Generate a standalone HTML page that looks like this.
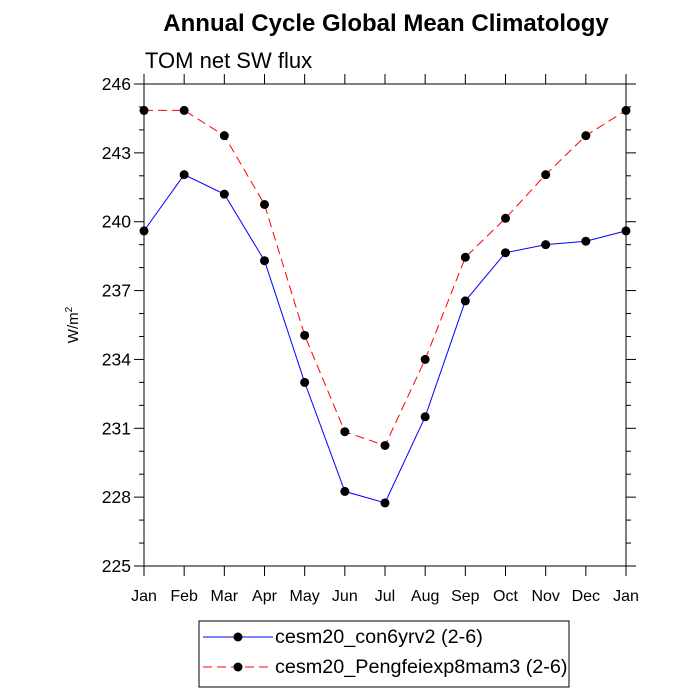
<!DOCTYPE html>
<html><head><meta charset="utf-8"><style>body{margin:0;background:#fff}svg{display:block;font-family:"Liberation Sans",sans-serif}</style></head>
<body>
<svg id="c" width="700" height="700">
<text x="386" y="31" text-anchor="middle" font-size="24" font-weight="bold">Annual Cycle Global Mean Climatology</text>
<text x="145" y="68" font-size="22">TOM net SW flux</text>
<text transform="translate(78,325) rotate(-90)" text-anchor="middle" font-size="15">W/m<tspan font-size="10" dy="-6">2</tspan></text>
<g id="g"></g>
<g>
<rect x="199" y="621" width="370" height="66" fill="none" stroke="#000" stroke-width="1"/>
<g>
<line x1="203" y1="637" x2="273" y2="637" stroke="#00f" stroke-width="1"/><circle cx="238" cy="637" r="4.5"/>
<text x="275" y="643" font-size="19.8">cesm20_con6yrv2 (2-6)</text></g>
<g>
<line x1="203" y1="667" x2="273" y2="667" stroke="#f00" stroke-width="1" stroke-dasharray="9,5"/><circle cx="238" cy="667" r="4.5"/>
<text x="275" y="673" font-size="19.8">cesm20_Pengfeiexp8mam3 (2-6)</text></g>
</g>
</svg>
<script>
const months=["Jan","Feb","Mar","Apr","May","Jun","Jul","Aug","Sep","Oct","Nov","Dec","Jan"];
const control=[239.6,242.05,241.2,238.3,233.0,228.25,227.75,231.5,236.55,238.65,239.0,239.15,239.6];
const experiment=[244.85,244.85,243.75,240.75,235.05,230.85,230.25,234.0,238.45,240.15,242.05,243.75,244.85];
const yTicks=[225,228,231,234,237,240,243,246];
const X0=144,X1=626,Y0=566,Y1=84,ymin=225,ymax=246;
const xs=i=>X0+(X1-X0)*i/(months.length-1);
const ys=v=>Y0-(Y0-Y1)*(v-ymin)/(ymax-ymin);
const NS="http://www.w3.org/2000/svg",g=document.getElementById("g");
function mk(t,a){const e=document.createElementNS(NS,t);for(const k in a)e.setAttribute(k,a[k]);g.appendChild(e);return e;}
const f=mk("rect",{x:X0,y:Y1,width:X1-X0,height:Y0-Y1,fill:"none",stroke:"#000","stroke-width":1});


for(let v=ymin;v<=ymax;v++){const maj=yTicks.includes(v),L=maj?10:5,y=ys(v);
 mk("line",{x1:X0-L,y1:y,x2:X0,y2:y,stroke:"#000"});mk("line",{x1:X1,y1:y,x2:X1+L,y2:y,stroke:"#000"});
 if(maj){const t=mk("text",{x:X0-13,y:y+6,"text-anchor":"end","font-size":17.5});t.textContent=v;
 
 }}
months.forEach((m,i)=>{const x=xs(i);
 mk("line",{x1:x,y1:Y0,x2:x,y2:Y0+10,stroke:"#000"});mk("line",{x1:x,y1:Y1-10,x2:x,y2:Y1,stroke:"#000"});
 const t=mk("text",{x:x,y:Y0+35,"text-anchor":"middle","font-size":16});t.textContent=m;
 
 });
function series(d,col,dash,name){
 const p=mk("polyline",{points:d.map((v,i)=>xs(i)+","+ys(v)).join(" "),fill:"none",stroke:col,"stroke-width":1,"stroke-dasharray":dash});
 
 
 d.forEach((v,i)=>{const c=mk("circle",{cx:xs(i),cy:ys(v),r:4.5,fill:"#000"});
 
 });}
series(experiment,"#f00","9,5","experiment");
series(control,"#00f","none","control");
</script>
</body></html>
